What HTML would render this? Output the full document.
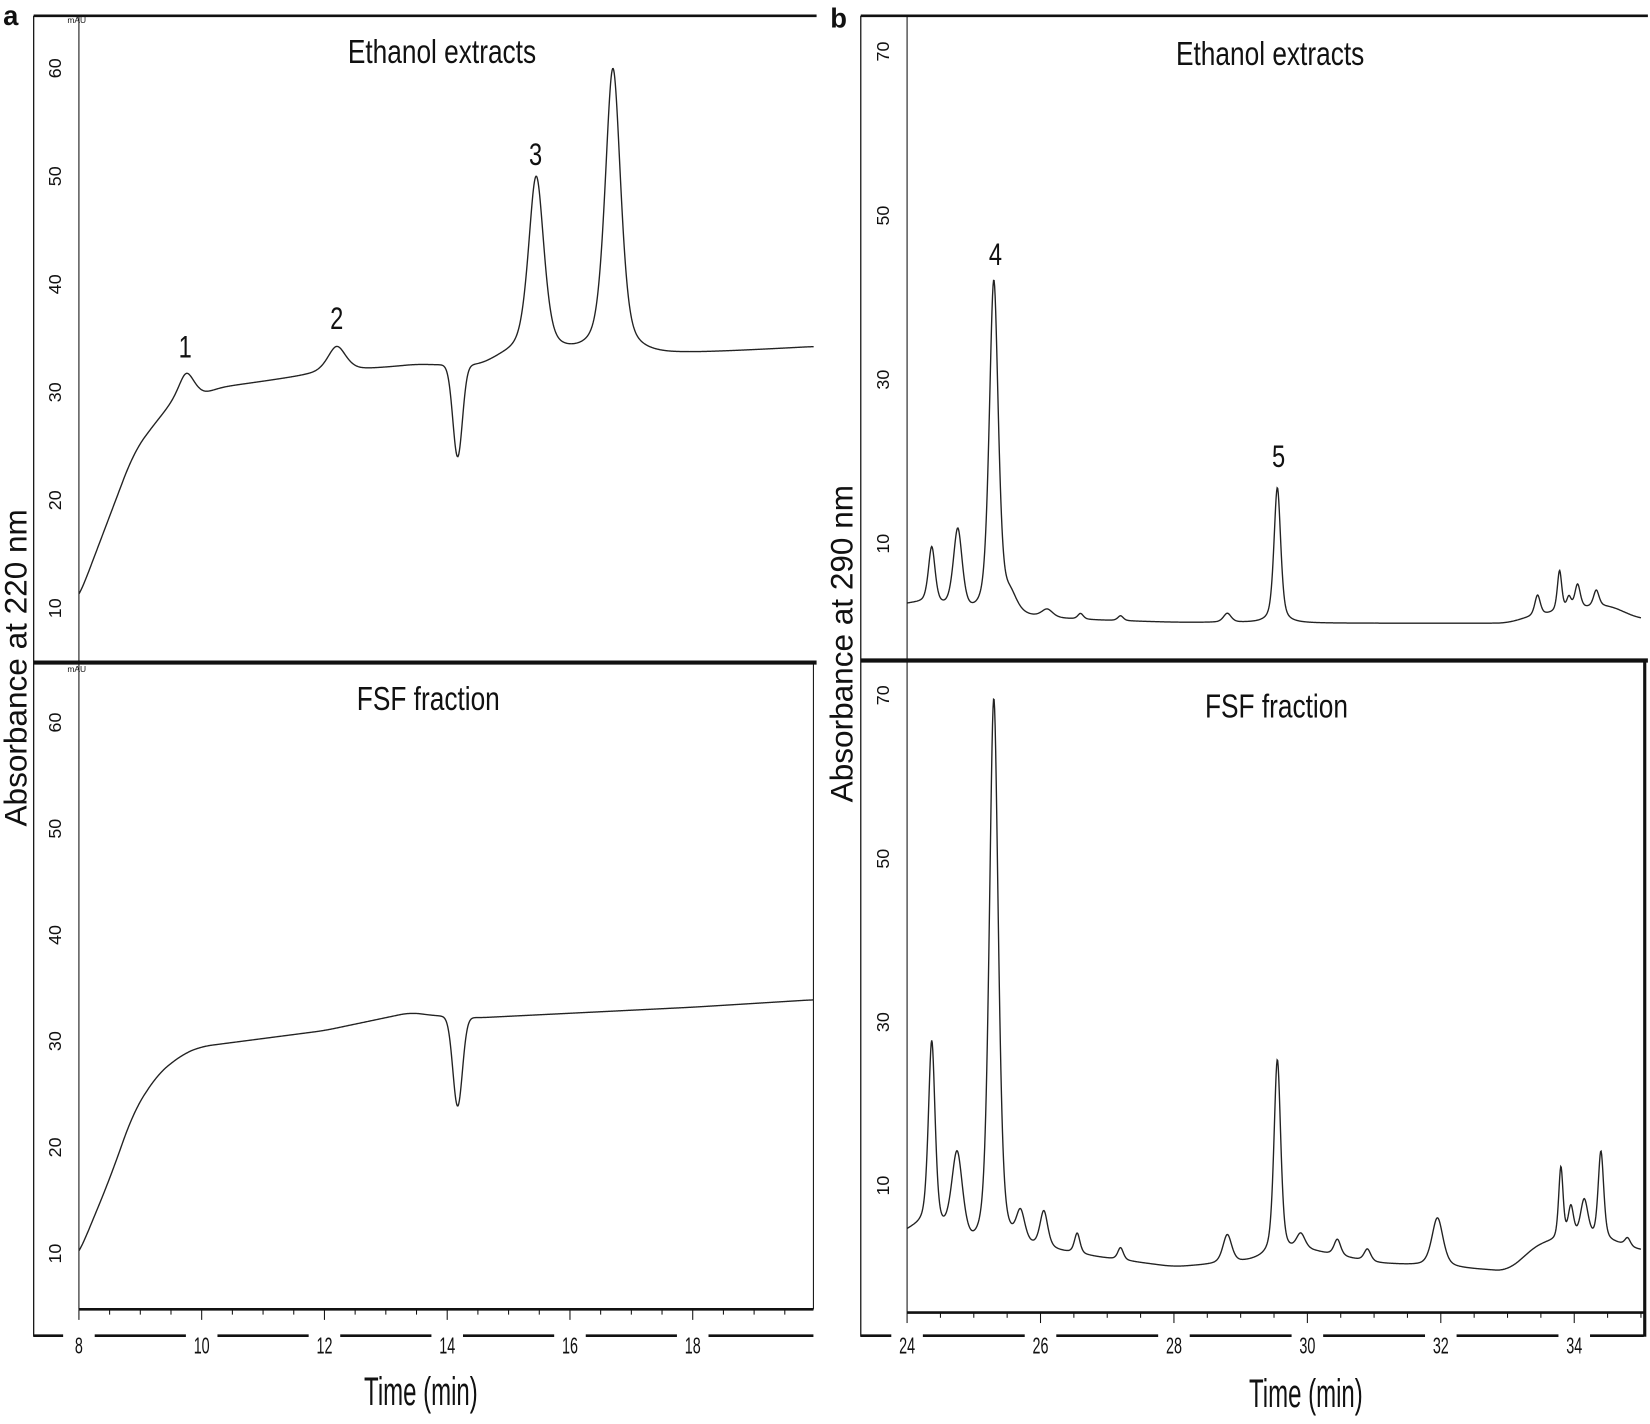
<!DOCTYPE html>
<html><head><meta charset="utf-8"><style>
html,body{margin:0;padding:0;background:#fff;}
svg{display:block;}
text{font-family:"Liberation Sans",sans-serif;fill:#111;}
</style></head><body>
<svg id="s" width="1650" height="1424" viewBox="0 0 1568 1354" preserveAspectRatio="none" xmlns="http://www.w3.org/2000/svg">
<g stroke="#111" fill="none">
<line x1="32" y1="15" x2="776" y2="15" stroke-width="2.5"/>
<line x1="32" y1="15" x2="32" y2="1271" stroke-width="1.2"/>
<line x1="75" y1="15" x2="75" y2="1245" stroke-width="1"/>
<line x1="32" y1="630" x2="776" y2="630" stroke-width="4"/>
<line x1="773" y1="630" x2="773" y2="1245" stroke-width="1"/>
<line x1="75" y1="1245" x2="773" y2="1245" stroke-width="2.5"/>
<line x1="32" y1="1270" x2="773" y2="1270" stroke-width="2.5"/>
<line x1="818" y1="15" x2="1566" y2="15" stroke-width="2.5"/>
<line x1="818" y1="15" x2="818" y2="1271" stroke-width="1.2"/>
<line x1="862" y1="15" x2="862" y2="1248" stroke-width="1"/>
<line x1="818" y1="628" x2="1566" y2="628" stroke-width="4"/>
<line x1="1563" y1="628" x2="1563" y2="1271" stroke-width="3"/>
<line x1="862" y1="1248" x2="1562" y2="1248" stroke-width="2.5"/>
<line x1="818" y1="1270" x2="1562" y2="1270" stroke-width="2.5"/>
</g>
<g id="ticks" stroke="#111" stroke-width="1"></g>
<g id="curves" stroke="#222" stroke-width="1.3" fill="none"></g>
<g id="labels"></g>
<text x="3" y="24" font-size="26" font-weight="bold">a</text>
<text x="789" y="26" font-size="26" font-weight="bold">b</text>
<g transform="translate(420,60) scale(0.78,1)"><text x="0" y="0" font-size="32" text-anchor="middle">Ethanol extracts</text></g>
<g transform="translate(407,675) scale(0.78,1)"><text x="0" y="0" font-size="32" text-anchor="middle">FSF fraction</text></g>
<g transform="translate(1207,62) scale(0.78,1)"><text x="0" y="0" font-size="32" text-anchor="middle">Ethanol extracts</text></g>
<g transform="translate(1213,682) scale(0.78,1)"><text x="0" y="0" font-size="32" text-anchor="middle">FSF fraction</text></g>
<g transform="translate(400,1336) scale(0.6,1)"><text x="0" y="0" font-size="38" text-anchor="middle">Time (min)</text></g>
<g transform="translate(1241,1338) scale(0.6,1)"><text x="0" y="0" font-size="38" text-anchor="middle">Time (min)</text></g>
<text transform="translate(25,635) rotate(-90)" font-size="30" text-anchor="middle">Absorbance at 220 nm</text>
<text transform="translate(810,612) rotate(-90)" font-size="30" text-anchor="middle">Absorbance at 290 nm</text>
<g font-size="30">
<g transform="translate(176,340) scale(0.75,1)"><text text-anchor="middle">1</text></g>
<g transform="translate(320,313) scale(0.75,1)"><text text-anchor="middle">2</text></g>
<g transform="translate(509,157) scale(0.75,1)"><text text-anchor="middle">3</text></g>
<g transform="translate(946,252) scale(0.75,1)"><text text-anchor="middle">4</text></g>
<g transform="translate(1215,444) scale(0.75,1)"><text text-anchor="middle">5</text></g>
</g>
</svg>
<script>
var NS="http://www.w3.org/2000/svg";
function el(p,tag,attrs,txt){var e=document.createElementNS(NS,tag);for(var k in attrs)e.setAttribute(k,attrs[k]);if(txt!==undefined)e.textContent=txt;document.getElementById(p).appendChild(e);return e;}
function pk(t,c,h,w){var x=(t-c)/w;return h*(0.5*Math.exp(-x*x*0.693)+0.5/(1+x*x));}
function interp(pts,t){if(t<=pts[0][0])return pts[0][1];for(var i=1;i<pts.length;i++){if(t<=pts[i][0]){var a=pts[i-1],b=pts[i];return a[1]+(b[1]-a[1])*(t-a[0])/(b[0]-a[0]);}}return pts[pts.length-1][1];}
function smooth(pts,t){var s=0,n=0;for(var k=-4;k<=4;k++){s+=interp(pts,t+k*0.04);n++;}return s/n;}
function draw(t0,t1,fx,fy,f){var d="";var n=1400;for(var i=0;i<=n;i++){var t=t0+(t1-t0)*i/n;d+=(i?"L":"M")+fx(t).toFixed(2)+" "+fy(f(t)).toFixed(2);}el("curves","path",{d:d});}
function pxa(t){return 75+(t-8)*58.33;}
function pya1(v){return 373-(v-30)*10.27;}
function pya2(v){return 990-(v-30)*10.1;}
var ba1=[[7.9,10],[8,11],[8.5,18.5],[8.9,24.5],[9.3,27.5],[9.6,29.3],[10,30.2],[11.8,31.6],[13.5,32.5],[14.5,32.3],[15,33.3],[17.5,33.4],[19.97,34.2]];
draw(8,19.97,pxa,pya1,function(t){return smooth(ba1,t)+pk(t,9.75,2.2,0.15)-0.4*pk(t,10.05,1,0.2)+pk(t,12.2,2.4,0.18)-8.5*Math.exp(-Math.pow((t-14.17)/0.11,2))+pk(t,15.45,16.5,0.15)+pk(t,16.7,26.5,0.15);});
var ba2=[[7.9,9],[8,10],[8.5,17],[8.9,23.5],[9.3,27],[9.7,28.8],[10,29.5],[12,31],[13.4,32.7],[13.8,32.4],[14.5,32.2],[18,33.2],[19.97,33.9]];
draw(8,19.97,pxa,pya2,function(t){return smooth(ba2,t)-8.4*Math.exp(-Math.pow((t-14.17)/0.11,2));});
function pxb(t){return 862+(t-24)*63.4;}
function pyb1(v){return 595-v*7.8;}
function pyb2(v){return 1205-v*7.77;}
var bb1=[[24,2.5],[24.2,2.7],[25,0.8],[26,0.8],[28,0.4],[30,0.3],[33,0.3],[33.3,1.0],[34.5,2.5],[35,0.8]];
var P1=[[24.37,7,0.06],[24.76,10,0.08],[25.3,41,0.08],[25.55,2,0.12],[26.1,1,0.1],[26.6,0.7,0.05],[27.2,0.6,0.05],[28.8,1.1,0.07],[29.55,16.5,0.06],[33.45,2.5,0.05],[33.78,5,0.04],[33.92,1.5,0.04],[34.05,3,0.05],[34.33,2,0.05]];
draw(24,35,pxb,pyb1,function(t){var v=smooth(bb1,t);P1.forEach(function(p){v+=pk(t,p[0],p[1],p[2]);});return v;});
var bb2=[[24,4],[24.2,5],[25,1],[26,2],[27,1],[28,0],[29,0.5],[30,2],[31,0.5],[32,0],[33,-0.5],[33.5,3],[34.6,3],[35,2]];
var P2=[[24.37,23,0.06],[24.75,11,0.1],[25.3,68,0.08],[25.7,4,0.08],[26.05,4.5,0.07],[26.55,2.5,0.05],[27.2,1.5,0.05],[28.8,3.5,0.08],[29.55,24,0.06],[29.9,2,0.08],[30.45,2,0.06],[30.9,1.5,0.06],[31.95,6,0.1],[33.8,9,0.04],[33.95,4,0.05],[34.15,5,0.07],[34.4,11,0.05],[34.8,1,0.05]];
draw(24,35,pxb,pyb2,function(t){var v=smooth(bb2,t);P2.forEach(function(p){v+=pk(t,p[0],p[1],p[2]);});return v;});
for(var t=8;t<=19.9;t+=0.5){var x=pxa(t);var L=(Math.abs(t-Math.round(t/2)*2)<0.01)?10:5;el("ticks","line",{x1:x,y1:1245,x2:x,y2:1245+L});}
for(var t=24;t<=35;t+=0.5){var x=pxb(t);var L=(Math.abs(t-Math.round(t/2)*2)<0.01)?10:5;el("ticks","line",{x1:x,y1:1248,x2:x,y2:1248+L});}
function xl(x,s){el("labels","rect",{x:x-15,y:1264,width:30,height:12,fill:"#fff"});var g=el("labels","g",{transform:"translate("+x+",1287) scale(0.62,1)"});var e=document.createElementNS(NS,"text");e.setAttribute("text-anchor","middle");e.setAttribute("font-size","22");e.textContent=s;g.appendChild(e);}
[8,10,12,14,16,18].forEach(function(t){xl(pxa(t),t);});
[24,26,28,30,32,34].forEach(function(t){xl(pxb(t),t);});
function yl(x,y,s){el("labels","text",{transform:"translate("+x+","+y+") rotate(-90)","font-size":"17","text-anchor":"middle"},s);}
[10,20,30,40,50,60].forEach(function(v){yl(58,pya1(v),v);yl(58,pya2(v),v);});
[10,30,50,70].forEach(function(v){yl(845,pyb1(v),v);yl(845,pyb2(v),v);});
el("labels","text",{x:64,y:22,"font-size":"8"},"mAU");
el("labels","text",{x:64,y:639,"font-size":"8"},"mAU");
</script>
</body></html>
